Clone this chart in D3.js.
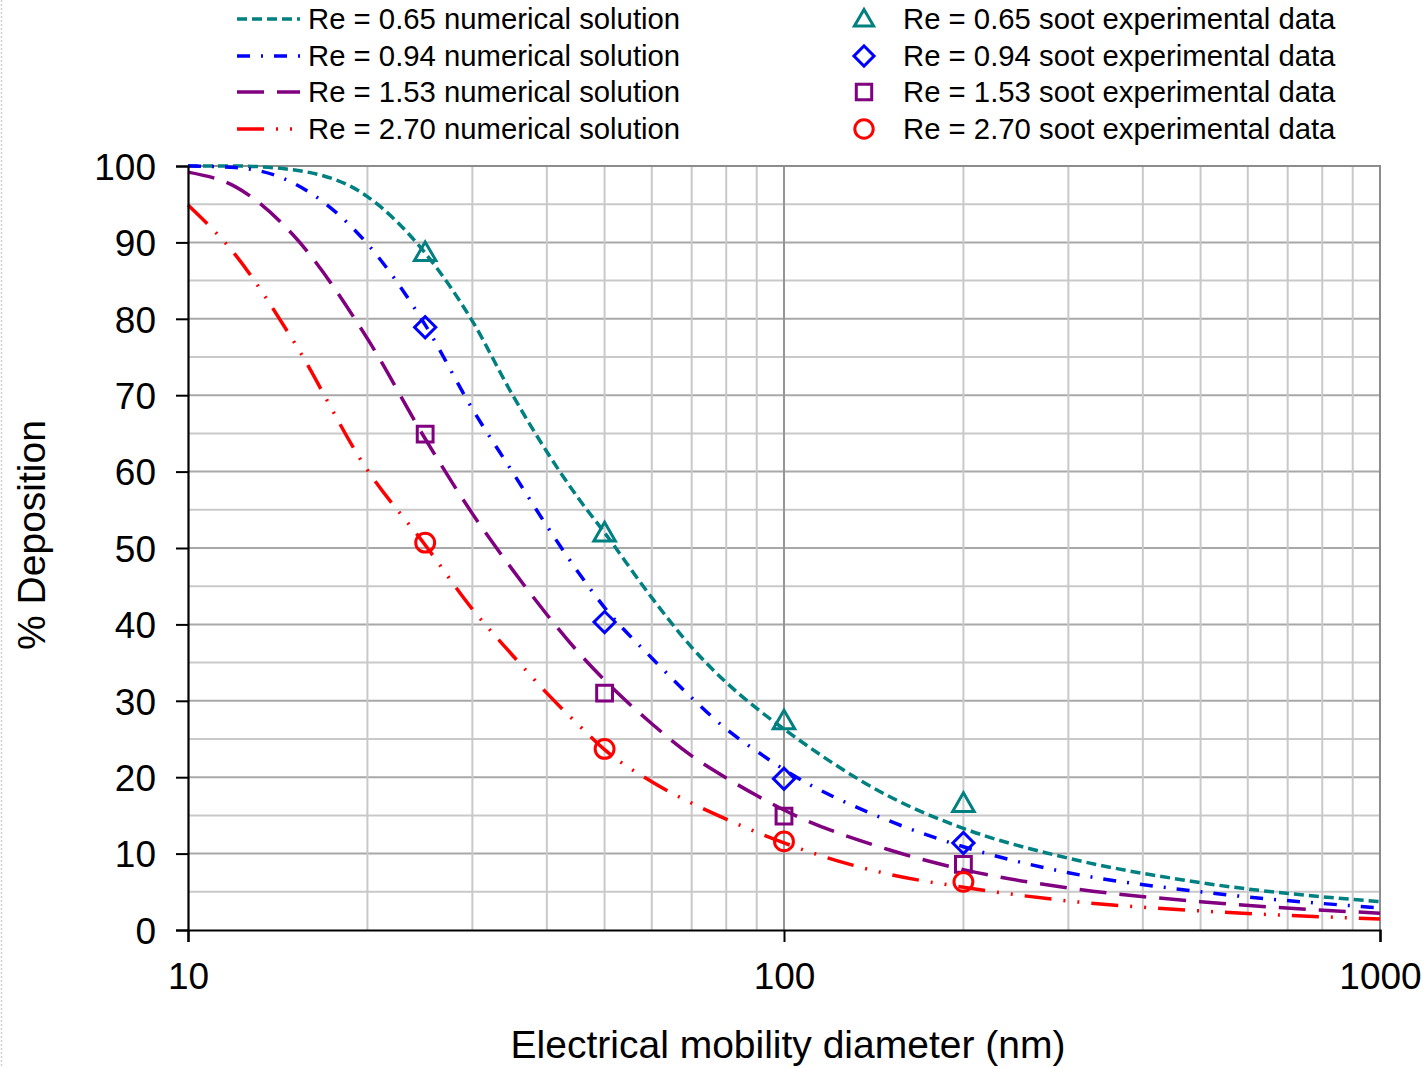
<!DOCTYPE html>
<html>
<head>
<meta charset="utf-8">
<script src="https://cdn.jsdelivr.net/npm/d3@7"></script>
<style>
  html, body { margin: 0; padding: 0; background: #fff; }
  svg { display: block; font-family: "Liberation Sans", Arial, sans-serif; }
</style>
</head>
<body>
<svg id="chart" width="1428" height="1068"></svg>
<script>
// Particle diameters (nm) at which the numerical solutions are sampled
const diameters = [10, 12, 15, 20, 25, 30, 35, 40, 45, 50, 60, 70, 80, 90, 100, 150, 200, 300, 500, 1000];

// % deposition, numerical solutions
const re065Model = [100, 100, 99.5, 96.0, 88.6, 79.7, 70.1, 62.6, 56.7, 52.0, 43.5, 37.0, 32.4, 29.0, 26.3, 17.5, 13.3, 9.4, 6.2, 3.7];
const re094Model = [100, 99.8, 97.8, 89.8, 79.2, 68.2, 60.0, 52.9, 47.0, 42.2, 35.6, 30.4, 26.3, 23.4, 21.0, 14.3, 10.9, 7.5, 5.0, 2.9];
const re153Model = [99.2, 97.3, 91.0, 77.4, 64.3, 54.5, 47.2, 41.3, 36.5, 32.7, 27.0, 22.8, 19.9, 17.6, 15.7, 10.5, 7.9, 5.5, 3.7, 2.2];
const re270Model = [94.9, 88.4, 77.2, 60.2, 50.4, 42.0, 36.0, 31.0, 27.0, 23.6, 19.4, 16.6, 14.5, 12.8, 11.4, 7.3, 5.6, 3.8, 2.5, 1.45];

// Soot experimental data
const expDiameters = [25, 50, 100, 200];
const re065Exp = [88.7, 52.0, 27.4, 16.6];
const re094Exp = [78.9, 40.3, 19.8, 11.4];
const re153Exp = [64.9, 31.0, 14.9, 8.6];
const re270Exp = [50.7, 23.7, 11.6, 6.3];

// Axis ticks
const xTicks = [10, 100, 1000];
const xMinorGrid = [20, 30, 40, 50, 60, 70, 80, 90, 200, 300, 400, 500, 600, 700, 800, 900];
const yTicks = [0, 10, 20, 30, 40, 50, 60, 70, 80, 90, 100];
const yMinorGrid = [5, 15, 25, 35, 45, 55, 65, 75, 85, 95];

const lineLabels = [
  "Re = 0.65 numerical solution",
  "Re = 0.94 numerical solution",
  "Re = 1.53 numerical solution",
  "Re = 2.70 numerical solution"
];
const markerLabels = [
  "Re = 0.65 soot experimental data",
  "Re = 0.94 soot experimental data",
  "Re = 1.53 soot experimental data",
  "Re = 2.70 soot experimental data"
];

const colors = ["#008080", "#0000ff", "#800080", "#ff0000"];
const dashes = ["10,5", "13,11,2,11", "27,13", "27,12,2,12,2,12"];
// diamond is drawn as a square turned by 45 degrees
const symbols = [d3.symbolTriangle, d3.symbolSquare, d3.symbolSquare, d3.symbolCircle];
const symbolRotate = [0, 45, 0, 0];
const symbolSizes = [200, 225, 250, 280];
const legendSymbolScale = [0.8, 0.9, 0.95, 0.95];

const models = [re065Model, re094Model, re153Model, re270Model];
const experiments = [re065Exp, re094Exp, re153Exp, re270Exp];

const svg = d3.select("#chart");

const plotLeft = 188, plotRight = 1380, plotTop = 166, plotBottom = 930;
const x = d3.scaleLog().domain([10, 1000]).range([plotLeft, plotRight]);
const y = d3.scaleLinear().domain([0, 100]).range([plotBottom, plotTop]);

// faint dotted edge at the far left
svg.append("line")
  .attr("x1", 1.5).attr("x2", 1.5).attr("y1", 0).attr("y2", 1068)
  .attr("stroke", "#d0d0d0").attr("stroke-width", 1.5).attr("stroke-dasharray", "2,2");

// grid
const grid = svg.append("g");
grid.selectAll(".hmin").data(yMinorGrid).join("line")
  .attr("x1", plotLeft).attr("x2", plotRight)
  .attr("y1", d => y(d)).attr("y2", d => y(d))
  .attr("stroke", "#c9c9c9").attr("stroke-width", 2);
grid.selectAll(".hmaj").data(yTicks.filter(d => d > 0 && d < 100)).join("line")
  .attr("x1", plotLeft).attr("x2", plotRight)
  .attr("y1", d => y(d)).attr("y2", d => y(d))
  .attr("stroke", "#a8a8a8").attr("stroke-width", 2);
grid.selectAll(".vmin").data(xMinorGrid).join("line")
  .attr("x1", d => x(d)).attr("x2", d => x(d))
  .attr("y1", plotTop).attr("y2", plotBottom)
  .attr("stroke", "#c9c9c9").attr("stroke-width", 2);
grid.append("line")
  .attr("x1", x(100)).attr("x2", x(100)).attr("y1", plotTop).attr("y2", plotBottom)
  .attr("stroke", "#959595").attr("stroke-width", 2);

// frame top / right
svg.append("path")
  .attr("d", `M${plotLeft},${plotTop}H${plotRight}V${plotBottom}`)
  .attr("fill", "none").attr("stroke", "#8c8c8c").attr("stroke-width", 2);

// curves
const line = d3.line()
  .x((d, i) => x(diameters[i]))
  .y(d => y(d))
  .curve(d3.curveMonotoneX);

const plot = svg.append("g");
models.forEach((m, k) => {
  plot.append("path")
    .attr("d", line(m))
    .attr("fill", "none")
    .attr("stroke", colors[k])
    .attr("stroke-width", 3.5)
    .attr("stroke-dasharray", dashes[k]);
});

// experimental markers
experiments.forEach((e, k) => {
  const sym = d3.symbol().type(symbols[k]).size(symbolSizes[k]);
  plot.selectAll(null).data(e).join("path")
    .attr("d", sym())
    .attr("transform", (d, i) => `translate(${x(expDiameters[i])},${y(d) + (k === 0 ? 2 : 0)}) rotate(${symbolRotate[k]})`)
    .attr("fill", "none")
    .attr("stroke", colors[k])
    .attr("stroke-width", 3);
});

// axes
const yAxis = d3.axisLeft(y).tickValues(yTicks).tickSize(12).tickPadding(20).tickFormat(d3.format("d"));
const gy = svg.append("g").attr("transform", `translate(${plotLeft},0)`).call(yAxis);
gy.select(".domain").attr("stroke", "#000").attr("stroke-width", 2.2);
gy.selectAll(".tick line").attr("stroke", "#000").attr("stroke-width", 2);
gy.selectAll(".tick text").attr("font-size", 37).attr("fill", "#000")
  .attr("font-family", "'Liberation Sans', Arial, sans-serif").attr("dy", "0.36em");

const xAxis = d3.axisBottom(x).tickValues(xTicks).tickSize(12).tickPadding(21).tickFormat(d3.format("d"));
const gx = svg.append("g").attr("transform", `translate(0,${plotBottom})`).call(xAxis);
gx.select(".domain").attr("stroke", "#000").attr("stroke-width", 2.2);
gx.selectAll(".tick line").attr("stroke", "#000").attr("stroke-width", 2);
gx.selectAll(".tick text").attr("font-size", 37).attr("fill", "#000")
  .attr("font-family", "'Liberation Sans', Arial, sans-serif");

// axis titles
svg.append("text")
  .attr("x", 788).attr("y", 1058)
  .attr("text-anchor", "middle").attr("font-size", 39).attr("fill", "#000")
  .text("Electrical mobility diameter (nm)");
svg.append("text")
  .attr("transform", `translate(45,535) rotate(-90)`)
  .attr("text-anchor", "middle").attr("font-size", 39).attr("fill", "#000")
  .text("% Deposition");

// legend
const rows = [19, 56, 92, 129];
const legend = svg.append("g").attr("font-size", 29.3).attr("fill", "#000");
rows.forEach((ry, k) => {
  legend.append("line")
    .attr("x1", 237).attr("x2", 300).attr("y1", ry).attr("y2", ry)
    .attr("stroke", colors[k]).attr("stroke-width", 3.5)
    .attr("stroke-dasharray", dashes[k]);
  legend.append("text").attr("x", 308).attr("y", ry + 10).text(lineLabels[k]);

  const sym = d3.symbol().type(symbols[k]).size(symbolSizes[k] * legendSymbolScale[k]);
  legend.append("path")
    .attr("d", sym())
    .attr("transform", `translate(864,${ry + (k === 0 ? 1.5 : 0)}) rotate(${symbolRotate[k]})`)
    .attr("fill", "none").attr("stroke", colors[k]).attr("stroke-width", 3);
  legend.append("text").attr("x", 903).attr("y", ry + 10).text(markerLabels[k]);
});
</script>
</body>
</html>
